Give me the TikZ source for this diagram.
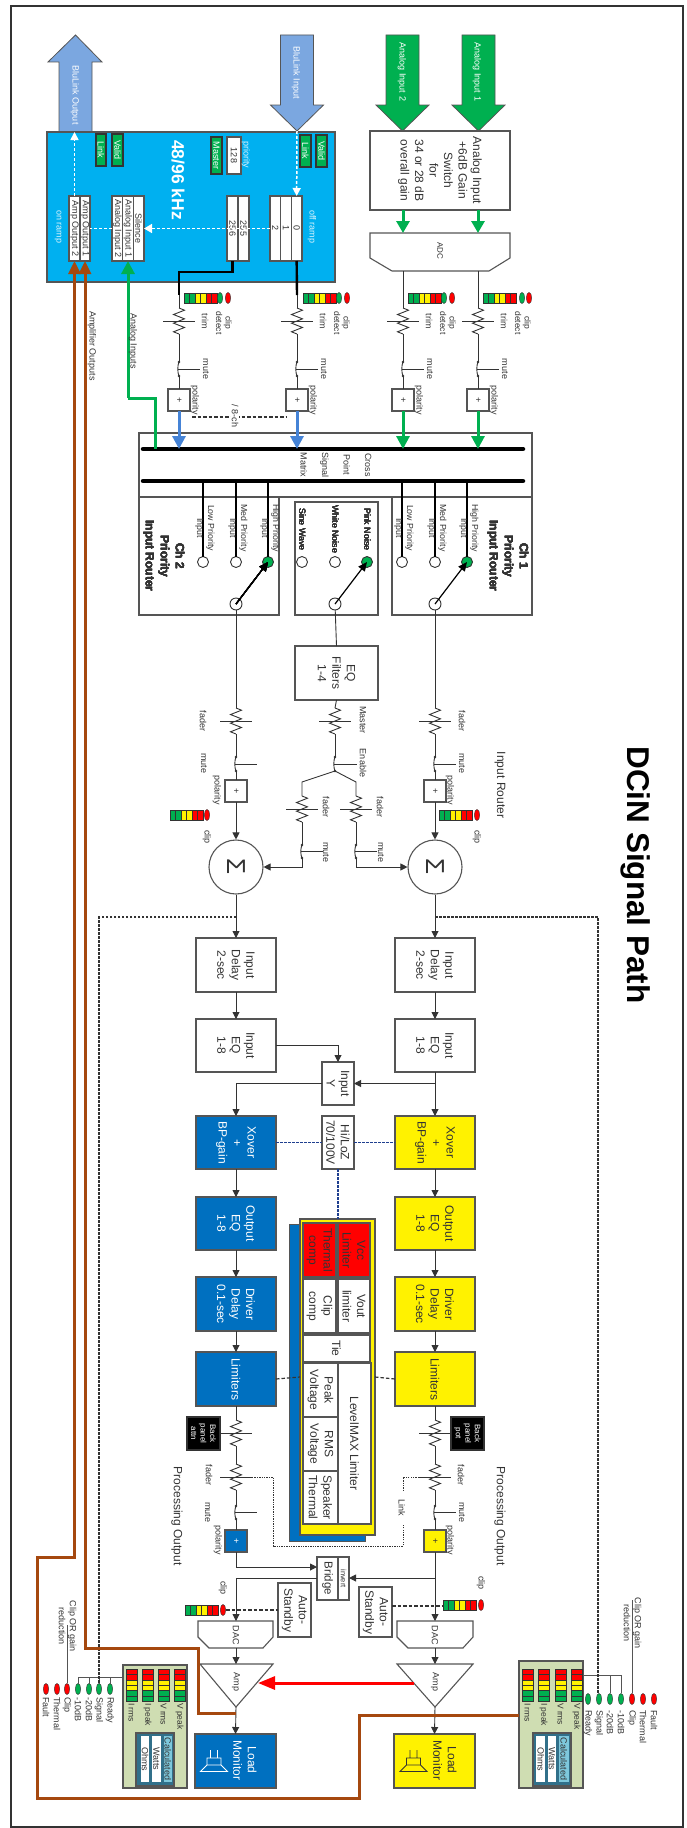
\documentclass[tikz,border=0pt]{standalone}
\usepackage{fontspec}
\setmainfont{Liberation Sans}
\usetikzlibrary{arrows.meta,calc}
\definecolor{ink}{HTML}{333333}
\definecolor{edge}{HTML}{555555}
\definecolor{sky}{HTML}{00B0F0}
\definecolor{gr}{HTML}{00B050}
\definecolor{dblue}{HTML}{0070C0}
\definecolor{brn}{HTML}{A5480F}
\definecolor{blk}{HTML}{7BA7E0}
\definecolor{barrow}{HTML}{4583D6}
\definecolor{panel}{HTML}{CFDDB2}
\definecolor{teal}{HTML}{31708A}
\definecolor{ltblue}{HTML}{7EC8DC}
\definecolor{navy}{HTML}{1F3F8F}
\newcount\tcnt
\tikzset{
  wire/.style={draw=ink,line width=.9pt},
  arr/.style={wire,-{Triangle[length=7pt,width=7pt]}},
  box/.style={rotate=-90,draw=edge,line width=1.1pt,inner sep=0pt,outer sep=0pt,align=center,text=ink,fill=white,font=\fontsize{12}{14.5}\selectfont},
  small/.style={font=\fontsize{9}{10.8}\selectfont},
  lbl/.style={rotate=-90,inner sep=0pt,outer sep=0pt,align=center,text=ink,font=\fontsize{9}{11}\selectfont},
  big/.style={font=\fontsize{12}{14.5}\selectfont},
  bold/.style={font=\fontsize{12}{15}\selectfont\bfseries},
  ylbox/.style={fill=yellow},
  blbox/.style={fill=dblue,text=white},
  green/.style={fill=gr,text=white,draw=ink},
  thickg/.style={draw=gr,line width=3pt,-{Triangle[length=13pt,width=13pt,fill=gr]}},
  thickb/.style={draw=barrow,line width=3pt,-{Triangle[length=13pt,width=13pt,fill=barrow]}},
  thickbr/.style={draw=brn,line width=3pt,-{Triangle[length=13pt,width=12pt,fill=brn]}},
  brnline/.style={draw=brn,line width=3pt},
  wdash/.style={draw=white,line width=1.5pt,dash pattern=on 3pt off 2pt},
  dotb/.style={draw=ink,line width=1.2pt,dash pattern=on 2.5pt off 1.5pt},
  dashk/.style={draw=ink,line width=1.2pt,dash pattern=on 3.5pt off 2pt},
  dashn/.style={draw=navy,line width=1.2pt,dash pattern=on 2.5pt off 1.5pt},
  dotthin/.style={draw=ink,line width=.8pt,dash pattern=on 1.3pt off 1.1pt},
  port/.style={rotate=-90,circle,draw=ink,line width=.9pt,fill=white,minimum size=11pt,inner sep=0pt,outer sep=0pt},
  sw/.style={draw=black,line width=1.2pt,-{Triangle[length=9pt,width=8pt]}},
}
\newcommand{\bx}[7][]{%
  \pgfmathsetmacro\dcX{((#3)+(#5))/2}\pgfmathsetmacro\dcY{((#4)+(#6))/2}%
  \pgfmathsetmacro\dcW{abs((#6)-(#4))}\pgfmathsetmacro\dcH{abs((#5)-(#3))}%
  \node[box,minimum width=\dcW pt,minimum height=\dcH pt,#1] (#2) at (\dcX,\dcY) {#7};}
\newcommand{\tx}[4][]{\global\advance\tcnt by 1 \node[lbl,#1] (t\the\tcnt) at (#2,#3) {#4};}
\newcommand{\res}[3]{%
  \coordinate (#1-in) at (#2,#3-13);\coordinate (#1-out) at (#2,#3+13);\coordinate (#1-c) at (#2,#3);
  \draw[wire] (#1-in) -- ++(5.5,2.2) -- ++(-11,4.32) -- ++(11,4.32) -- ++(-11,4.32) -- ++(11,4.32) -- ++(-11,4.32) -- (#1-out);
  \draw[wire] ($(#1-c)+(-16,0)$) -- ($(#1-c)+(16,0)$);}
\newcommand{\mutesw}[5]{%
  \coordinate (#1-in) at (#2,#3);\coordinate (#1-out) at (#2,#4);
  \draw[wire] (#1-in) .. controls (#2-1.6,#3+3) and (#2-1.6,#4-3) .. (#1-out);
  \draw[wire] (#2-1,{(#3+#4)/2}) -- (#5,{(#3+#4)/2});
  \fill[ink] (#1-in) circle (1.4pt) (#1-out) circle (1.4pt);}
\newcommand{\hmeter}[2]{%
  \foreach \c [count=\i from 0] in {gr,gr,yellow,yellow,red,red}
    \draw[fill=\c,draw=ink,line width=.5pt] (#1+\i*5.5,#2) rectangle ++(5.5,10.5);}
\newcommand{\vmeter}[2]{%
  \foreach \c [count=\i from 0] in {red,red,yellow,yellow,gr,gr}
    \draw[fill=\c,draw=ink,line width=.5pt] (#1,#2+\i*5.4) rectangle ++(11,5.4);}
\newcommand{\led}[3]{\draw[fill=#3,draw=ink,line width=.4pt] (#1,#2) circle [x radius=2.7pt,y radius=5.6pt];}
\newcommand{\darrow}[3]{%
  \draw[fill=#2,draw=#3,line width=.8pt] (#1-16.5,35) -- (#1+16.5,35) -- (#1+16.5,105) -- (#1+26.5,105) -- (#1,131) -- (#1-26.5,105) -- (#1-16.5,105) -- cycle;}
\newcommand{\speaker}[2]{%
  \draw[draw=#2,line width=.9pt] (#1-3.5,1750) -- (#1-3.5,1758) (#1+3.5,1750) -- (#1+3.5,1758)
    (#1-7,1758) rectangle (#1+7,1765) (#1-7,1765) -- (#1-13.5,1771.5) -- (#1+13.5,1771.5) -- (#1+7,1765);}
\begin{document}
\begin{tikzpicture}[x=1pt,y=-1pt]
\useasboundingbox (0,0) rectangle (686,1828);
\fill[white] (0,0) rectangle (686,1828);
\draw[draw=ink,line width=2.4pt] (11,6) rectangle (683,1827);
\tx[font=\fontsize{31.5}{36}\selectfont\bfseries,text=black]{636}{875}{DCiN Signal Path}

% ---------- input section: blue box
\draw[fill=blk,draw=edge,line width=.8pt] (59,132) -- (59,62) -- (48,62) -- (75.5,35) -- (102,62) -- (92,62) -- (92,132);
\tx[text=white]{75}{95}{BluLink Output}
\bx[fill=sky,draw=edge]{bb}{47}{132}{335}{282}{}
\darrow{297}{blk}{edge}
\tx[text=white]{296}{73}{BluLink Input}
\darrow{402.5}{gr}{edge}
\tx[text=white]{402}{72}{Analog Input 2}
\darrow{478.5}{gr}{edge}
\tx[text=white]{477}{72}{Analog Input 1}
\bx[green,small]{lkA}{96}{134}{106}{166}{Link}
\bx[green,small]{vaA}{112}{134}{123}{166}{Valid}
\bx[green,small]{mast}{211}{137}{222}{174}{Master}
\bx[small]{prio}{227}{137}{241}{174}{128}
\tx[text=white!85!sky]{246}{155}{priority}
\bx[green,small]{lkB}{300}{135}{311}{167}{Link}
\bx[green,small]{vaB}{316}{135}{327}{167}{Valid}
\tx[font=\fontsize{17.5}{20}\selectfont\bfseries,text=white]{178}{180}{48/96 kHz}
\tx[text=white!85!sky]{312}{227}{off ramp}
\tx[text=white!85!sky]{58}{227}{on ramp}
\bx[small]{ao2}{69}{196}{80}{261}{Amp Output 2}
\bx[small]{ao1}{80}{196}{90}{261}{Amp Output 1}
\bx[small]{ai2}{112}{196}{122.7}{261}{Analog Input 2}
\bx[small]{ai1}{122.7}{196}{133.3}{261}{Analog Input 1}
\bx[small]{sil}{133.3}{196}{144}{261}{Silence}
\bx[small]{c256}{227}{196}{238}{261}{256}
\bx[small]{c255}{238}{196}{249}{261}{255}
\bx[small]{c2}{270}{196}{280.7}{261}{2}
\bx[small]{c1}{280.7}{196}{291.3}{261}{1}
\bx[small]{c0}{291.3}{196}{302}{261}{0}
\coordinate (bltip) at (297,131);
\draw[wdash,-{Triangle[length=8pt,width=8pt,fill=white]}] (bltip) -- (c0.west);
\draw[wdash,-{Triangle[length=8pt,width=9pt,fill=white]}] (c2.south) -- (sil.north);
\draw[wdash] (ai2.south) -- (ao1.north);
\draw[wdash,-{Triangle[length=8pt,width=8pt,fill=white]}] (ao2.west) -- (ao2.west |- bb.west);

% ---------- analog input
\bx[big]{gain}{370}{131}{510}{210}{Analog Input\\+6dB Gain\\Switch\\for\\34 or 28 dB\\overall gain}
\coordinate (adcA) at (403,233);\coordinate (adcB) at (478,233);
\draw[fill=white,draw=edge,line width=1.1pt] (370,233) -- (510,233) -- (510,258) -- (489,271) -- (392,271) -- (370,258) -- cycle;
\tx[font=\fontsize{8}{10}\selectfont]{440}{251}{ADC}
\draw[draw=gr,line width=3pt,-{Triangle[length=12pt,width=13pt,fill=gr]}] (gain.east -| adcA) -- (adcA);
\draw[draw=gr,line width=3pt,-{Triangle[length=12pt,width=13pt,fill=gr]}] (gain.east -| adcB) -- (adcB);

% ---------- input channel strips
\newcommand{\inch}[6]{%
  \res{#1r}{#2}{321}
  \mutesw{#1m}{#2}{362}{376}{#2+21}
  \bx[small]{#1p}{#2-11}{389}{#2+11}{411}{+}
  \draw[wire] (#1r-out) -- (#1m-in);
  \draw[wire] (#1m-out) -- (#1p.west);
  \hmeter{#3}{293}
  \led{#4}{298}{gr}
  \led{#5}{298}{red}
  \tx{#2+26}{321}{trim}
  \tx[font=\fontsize{8.5}{9.5}\selectfont]{#2+45}{323}{clip\\detect}
  \tx{#2+27}{369}{mute}
  \tx{#2+16}{400}{polarity}
  \coordinate (#1top) at (#2,#6);
  \draw[wire] (#1top) -- (#1r-in);
}
\inch{a}{179}{184}{220}{228}{295}
\inch{b}{297}{303}{339}{347}{295}
\inch{c}{403}{408}{444}{452}{271}
\inch{d}{478}{483}{522}{529}{271}
\draw[draw=black,line width=2.4pt] (c256.east) -- ++(0,11) -| (atop);
\draw[draw=black,line width=2.4pt] (c0.east) -- (btop);

% ---------- matrix
\bx{matx}{139}{433}{532}{497}{}
\bx{rtL}{139}{497}{279}{615}{}
\bx{rtM}{295}{502}{378}{615}{}
\bx{rtR}{392}{497}{532}{615}{}
\coordinate (busA1) at (143,449);\coordinate (busA2) at (523,449);
\coordinate (busB1) at (143,481);\coordinate (busB2) at (523,481);
\tx[font=\fontsize{9}{21.5}\selectfont]{336}{465}{Cross\\Point\\Signal\\Matrix}
\node[port] (i1) at (203,562) {};
\node[port] (i2) at (236,562) {};
\node[port,fill=gr] (i3) at (268,562) {};
\node[port] (n1) at (302,562) {};
\node[port] (n2) at (335,562) {};
\node[port,fill=gr] (n3) at (367,562) {};
\node[port] (j1) at (402,562) {};
\node[port] (j2) at (435,562) {};
\node[port,fill=gr] (j3) at (467,562) {};
\node[port,minimum size=12pt] (pL) at (236,604) {};
\node[port,minimum size=12pt] (pM) at (335,604) {};
\node[port,minimum size=12pt] (pR) at (435,604) {};
\foreach \p in {i1,i2,i3,j1,j2,j3} \draw[draw=black,line width=1.1pt] (\p.west) -- (\p.west |- busB1);
\draw[line width=4.5pt,line cap=round,draw=black] (busA1) -- (busA2);
\draw[line width=4.5pt,line cap=round,draw=black] (busB1) -- (busB2);
\foreach \c/\n in {203/Low,236/Med,268/High,402/Low,435/Med,467/High}
  \tx[font=\fontsize{8.8}{11}\selectfont]{\c+2}{528}{\n\ Priority\\Input}
\tx[font=\fontsize{8.8}{11}\selectfont]{302.4}{529.3}{Sine Wave}
\tx[font=\fontsize{8.8}{11}\selectfont]{335.4}{529.3}{White Noise}
\tx[font=\fontsize{8.8}{11}\selectfont]{367.4}{529.3}{Pink Noise}
\tx[bold]{164}{556}{Ch 2\\Priority\\Input Router}
\tx[bold]{508}{556}{Ch 1\\Priority\\Input Router}
\draw[sw] (pL.center) -- (i3.center);
\draw[sw] (pM.center) -- (n3.center);
\draw[sw] (pR.center) -- (j3.center);
\draw[thickb] (ap.east) -- (ap.east |- busA1);
\draw[thickb] (bp.east) -- (bp.east |- busA1);
\draw[thickg] (cp.east) -- (cp.east |- busA1);
\draw[thickg] (dp.east) -- (dp.east |- busA1);
\coordinate (gA) at (128,398);
\draw[draw=gr,line width=3pt] (gA) -| (155,449);
\draw[thickg,-{Triangle[length=13pt,width=13pt,fill=gr]}] (gA) -- (ai1.east);
\tx{133}{341}{Analog Inputs}
\tx{92}{346}{Amplifier Outputs}
\draw[dashk] (ap.north |- 0,417) ++(2,0) -- (bp.south |- 0,417);
\tx[fill=white,inner ysep=1pt]{235}{416}{/ 8-ch}

% ---------- faders and sums
\node[rotate=-90,circle,draw=edge,line width=1.1pt,fill=white,minimum size=54pt,inner sep=0pt,font=\fontsize{26}{26}\selectfont,text=ink] (sumL) at (236,867) {Σ};
\node[rotate=-90,circle,draw=edge,line width=1.1pt,fill=white,minimum size=54pt,inner sep=0pt,font=\fontsize{26}{26}\selectfont,text=ink] (sumR) at (435,867) {Σ};
\bx{eqf}{295}{646}{378}{700}{EQ\\Filters\\1-4}
\draw[wire] (pM) -- (eqf.west);
% left
\res{lr}{236}{721}\mutesw{lm}{236}{757}{771}{257}
\bx[small]{lp}{225}{780}{247}{802}{+}
\draw[wire] (pL) -- (lr-in);\draw[wire] (lr-out) -- (lm-in);\draw[wire] (lm-out) -- (lp.west);
\draw[arr] (lp.east) -- (sumL.west);
\tx{203}{721}{fader}\tx{204}{763}{mute}\tx{217}{790}{polarity}
\hmeter{170}{810}\led{207}{815}{red}\tx{207}{837}{clip}
% right
\res{rr}{435}{721}\mutesw{rm}{435}{757}{771}{456}
\bx[small]{rp}{424}{780}{446}{802}{+}
\draw[wire] (pR) -- (rr-in);\draw[wire] (rr-out) -- (rm-in);\draw[wire] (rm-out) -- (rp.west);
\draw[arr] (rp.east) -- (sumR.west);
\tx{462}{721}{fader}\tx{462}{763}{mute}\tx{450}{790}{polarity}
\hmeter{439}{810}\led{477}{815}{red}\tx{477}{837}{clip}
\tx[big]{500}{785}{Input Router}
% noise
\res{nr}{335}{721}\mutesw{nm}{335}{757}{771}{357}
\draw[wire] (eqf.east) -- (nr-in);\draw[wire] (nr-out) -- (nm-in);
\tx{363}{720}{Master}\tx{363}{763}{Enable}
\res{nla}{302}{809}\mutesw{nlm}{302}{845}{858}{323}
\res{nra}{356}{809}\mutesw{nrm}{356}{845}{858}{377}
\draw[wire] (nm-out) -- (302,782) -- (nla-in);
\draw[wire] (nm-out) -- (356,782) -- (nra-in);
\draw[wire] (nla-out) -- (nlm-in);\draw[wire] (nra-out) -- (nrm-in);
\draw[arr] (nlm-out) |- (sumL.north);
\draw[arr] (nrm-out) |- (sumR.south);
\tx{326}{807}{fader}\tx{380}{807}{fader}\tx{326}{852}{mute}\tx{381}{852}{mute}

% ---------- processing
\bx{dlyL}{196}{938}{276}{992}{Input\\Delay\\2-sec}
\bx{dlyR}{395}{938}{475}{992}{Input\\Delay\\2-sec}
\bx{ieqL}{196}{1019}{276}{1072}{Input\\EQ\\1-8}
\bx{ieqR}{395}{1019}{475}{1072}{Input\\EQ\\1-8}
\bx{iy}{322}{1062}{354}{1105}{Input\\Y}
\bx[blbox]{xoL}{196}{1116}{276}{1169}{Xover\\+\\BP-gain}
\bx[ylbox]{xoR}{395}{1116}{475}{1169}{Xover\\+\\BP-gain}
\bx{hilo}{322}{1116}{354}{1169}{Hi/LoZ\\70/100V}
\bx[blbox]{oeqL}{196}{1197}{276}{1250}{Output\\EQ\\1-8}
\bx[ylbox]{oeqR}{395}{1197}{475}{1250}{Output\\EQ\\1-8}
\bx[blbox]{ddL}{196}{1277}{276}{1331}{Driver\\Delay\\0.1-sec}
\bx[ylbox]{ddR}{395}{1277}{475}{1331}{Driver\\Delay\\0.1-sec}
\bx[blbox]{limL}{196}{1352}{276}{1406}{Limiters}
\bx[ylbox]{limR}{395}{1352}{475}{1406}{Limiters}
\draw[arr] (sumL.east) -- (dlyL.west);\draw[arr] (sumR.east) -- (dlyR.west);
\draw[arr] (dlyL.east) -- (ieqL.west);\draw[arr] (dlyR.east) -- (ieqR.west);
\draw[arr] (ieqL.north) -| (iy.west);
\draw[arr] (ieqR.east |- iy.north) -- (iy.north);
\draw[arr] (ieqR.east) -- (xoR.west);
\draw[arr] (iy.south) -| (xoL.west);
\draw[arr] (xoL.east) -- (oeqL.west);\draw[arr] (xoR.east) -- (oeqR.west);
\draw[arr] (oeqL.east) -- (ddL.west);\draw[arr] (oeqR.east) -- (ddR.west);
\draw[arr] (ddL.east) -- (limL.west);\draw[arr] (ddR.east) -- (limR.west);
\draw[dashn] (xoL.north) -- (hilo.south);
\draw[dashn] (hilo.north) -- (xoR.south);

% LevelMAX
\draw[fill=dblue,draw=edge,line width=.8pt] (289,1224) rectangle (365,1541);
\bx[fill=yellow]{lmx}{300}{1219}{375}{1535}{}
\draw[dashn] (hilo.east) -- (hilo.east |- lmx.west);
\draw[dashk] (limL.north) -- (lmx.south);
\draw[dashk] (lmx.north) -- (limR.south);
\bx[fill=red]{tc}{303}{1223}{336}{1277}{Thermal\\comp}
\bx[fill=red]{vl}{338}{1223}{370}{1277}{Vcc\\Limiter}
\bx{cc}{303}{1279}{336}{1333}{Clip\\comp}
\bx{vo}{338}{1279}{370}{1333}{Vout\\limiter}
\bx{tie}{303}{1335}{370}{1362}{Tie}
\bx{pv}{303}{1363}{338}{1417}{Peak\\Voltage}
\bx{rv}{303}{1417}{338}{1471}{RMS\\Voltage}
\bx{st}{303}{1471}{338}{1524}{Speaker\\Thermal}
\bx{lmt}{338}{1363}{371}{1524}{LevelMAX Limiter}

% output strips
\bx[fill=black,text=white,draw=ink,font=\fontsize{8}{9.5}\selectfont]{bpL}{187}{1417}{220}{1450}{Back\\panel\\attn}
\bx[fill=black,text=white,draw=ink,font=\fontsize{8}{9.5}\selectfont]{bpR}{451}{1417}{484}{1450}{Back\\panel\\pot}
\res{u1L}{236}{1433}\res{u1R}{435}{1433}
\res{u2L}{236}{1477}\res{u2R}{435}{1477}
\mutesw{umL}{236}{1506}{1519}{257}
\mutesw{umR}{435}{1506}{1519}{456}
\bx[blbox,small]{upL}{225}{1530}{247}{1552}{+}
\bx[ylbox,small]{upR}{424}{1530}{446}{1552}{+}
\draw[wire] (limL.east) -- (u1L-in);\draw[wire] (limR.east) -- (u1R-in);
\draw[wire] (u1L-out) -- (u2L-in);\draw[wire] (u1R-out) -- (u2R-in);
\draw[wire] (u2L-out) -- (umL-in);\draw[wire] (u2R-out) -- (umR-in);
\draw[wire] (umL-out) -- (upL.west);\draw[wire] (umR-out) -- (upR.west);
\tx{209}{1475}{fader}\tx{461}{1475}{fader}
\tx{208}{1512}{mute}\tx{462}{1512}{mute}
\tx{218}{1540}{polarity}\tx{450}{1540}{polarity}
\tx[big]{177}{1516}{Processing Output}\tx[big]{500}{1516}{Processing Output}
\coordinate (lkA) at (403,1492);\coordinate (lkB) at (403,1525);
\draw[dotthin] (u2R-c) ++(-16,0) -| (lkA);
\draw[dotthin] (u2L-c) ++(16,0) -| (273,1546) -| (lkB);
\tx{402}{1508}{Link}

\bx[font=\fontsize{11.5}{14}\selectfont]{brg}{317}{1557}{338}{1600}{Bridge}
\bx[font=\fontsize{7.5}{9}\selectfont]{inv}{338}{1557}{349}{1600}{invert}
\bx[big]{asL}{278}{1583}{311}{1637}{Auto-\\Standby}
\bx[big]{asR}{359}{1587}{392}{1637}{Auto-\\Standby}
\draw[fill=white,draw=edge,line width=1.1pt] (198,1621) -- (273,1621) -- (273,1637) -- (263,1648) -- (209,1648) -- (198,1637) -- cycle;
\draw[fill=white,draw=edge,line width=1.1pt] (397,1621) -- (473,1621) -- (473,1637) -- (463,1648) -- (408,1648) -- (397,1637) -- cycle;
\tx{236}{1635}{DAC}\tx{435}{1635}{DAC}
\coordinate (dacL) at (236,1621);\coordinate (dacLb) at (236,1648);
\coordinate (dacR) at (435,1621);\coordinate (dacRb) at (435,1648);
\coordinate (ampLt) at (236,1664);\coordinate (ampLb) at (236,1707);
\coordinate (ampRt) at (435,1664);\coordinate (ampRb) at (435,1707);
\draw[fill=white,draw=edge,line width=1.1pt] (200,1664) -- (273,1664) -- (ampLb) -- cycle;
\draw[fill=white,draw=edge,line width=1.1pt] (397,1664) -- (473,1664) -- (ampRb) -- cycle;
\tx{236}{1682}{Amp}\tx{435}{1682}{Amp}
\draw[arr] (upL.east) |- (brg.south |- 0,1567);
\draw[arr] (brg.south |- 0,1578) -| (dacL);
\draw[arr] (upR.east) -- (dacR);
\draw[arr] (upR.east |- 0,1578) -- (inv.north |- 0,1578);
\draw[arr] (dacLb) -- (ampLt);\draw[arr] (dacRb) -- (ampRt);
\hmeter{185}{1605}\led{223}{1610}{red}\tx{223}{1588}{clip}
\hmeter{443}{1600}\led{481}{1605}{red}\tx{481}{1583}{clip}
\draw[dashk] (226,1610) -- (asL.south |- 0,1610);
\draw[dashk] (asR.north |- 0,1606) -- (443,1606);
\coordinate (ampLi) at (258,1683);\coordinate (ampRi) at (414,1683);
\draw[draw=red,line width=3pt,-{Triangle[length=17pt,width=13pt,fill=red]}] (ampRi) -- (ampLi);

% loads
\bx[blbox]{loadL}{195}{1734}{276}{1788}{}
\bx[ylbox]{loadR}{394}{1734}{475}{1788}{}
\tx[big,text=white]{245}{1760}{Load\\Monitor}
\tx[big]{445}{1760}{Load\\Monitor}
\speaker{214}{white}
\speaker{413.5}{ink}
\draw[arr] (ampLb) -- (loadL.west);
\draw[arr] (ampRb) -- (loadR.west);

% meter panels
\bx[fill=panel]{gpL}{123}{1665}{187}{1788}{}
\bx[fill=panel]{gpR}{519}{1661}{583}{1788}{}
\foreach \m/\l in {126/I rms,142/I peak,158/V rms,174/V peak}{
  \vmeter{\m}{1669}
  \tx[anchor=west,font=\fontsize{8.5}{10}\selectfont]{\m+5.5}{1703}{\l}
}
\foreach \m/\l in {522/I rms,538/I peak,555/V rms,571/V peak}{
  \vmeter{\m}{1669}
  \tx[anchor=west,font=\fontsize{8.5}{10}\selectfont]{\m+5.5}{1703}{\l}
}
\bx[fill=teal]{calcL}{136}{1733}{174}{1786}{}
\bx[fill=teal]{calcR}{533}{1733}{571}{1786}{}
\bx[fill=ltblue,small,draw=teal]{c1L}{163}{1735}{172.5}{1783}{Calculated}
\bx[small,draw=teal]{c2L}{151}{1735}{162}{1783}{Watts}
\bx[small,draw=teal]{c3L}{140}{1735}{150}{1783}{Ohms}
\bx[fill=ltblue,small,draw=teal]{c1R}{558}{1735}{569.5}{1783}{Calculated}
\bx[small,draw=teal]{c2R}{547}{1735}{557}{1783}{Watts}
\bx[small,draw=teal]{c3R}{535.5}{1735}{546}{1783}{Ohms}

% status LEDs
\foreach \p/\c/\l in {46/red/Fault,57/red/Thermal,67/red/Clip,78/gr/-10dB,89/gr/-20dB,99/gr/Signal,110/gr/Ready}{
  \led{\p}{1689}{\c}
  \tx[anchor=west]{\p}{1697}{\l}
}
\foreach \p/\c/\l in {588/gr/Ready,599/gr/Signal,610/gr/-20dB,621/gr/-10dB,632/red/Clip,643/red/Thermal,654/red/Fault}{
  \led{\p}{1699}{\c}
  \tx[anchor=west]{\p}{1710}{\l}
}
\draw[wire,draw=edge] (gpL.south |- 0,1677) -- (78,1677) -- (78,1684);
\foreach \p in {89,99,110} \draw[wire,draw=edge] (\p,1677) -- (\p,1684);
\draw[wire,draw=edge] (gpR.north |- 0,1675) -- (621,1675) -- (621,1693);
\draw[wire,draw=edge] (610,1675) -- (610,1693);
\draw[wire,draw=edge] (67,1625) -- (67,1683);
\draw[wire,draw=edge] (632,1600) -- (632,1693);
\tx{67.5}{1626}{Clip OR gain\\reduction}
\tx{632.5}{1623}{Clip OR gain\\reduction}

% dotted signal frame
\coordinate (frL) at (99,1683);\coordinate (frR) at (598,1693);
\draw[dotb] (sumL.east |- 0,917) -| (frL);
\draw[dotb] (sumR.east |- 0,917) -| (frR);

% brown amplifier outputs
\coordinate (brA) at (519,1715);
\draw[brnline] (brA) -- (359,1715) -- (359,1798) -- (37,1798) -- (37,1557) -- (74.5,1557) -- (ao2.east |- 0,274);
\draw[thickbr] (ao2.east |- 0,280) -- (ao2.east);
\coordinate (brB) at (236,1713);
\draw[brnline] (brB) -- (198,1713) -- (198,1648) -- (85,1648) -- (85,274);
\draw[thickbr] (ao1.east |- 0,280) -- (ao1.east);
\end{tikzpicture}
\end{document}
